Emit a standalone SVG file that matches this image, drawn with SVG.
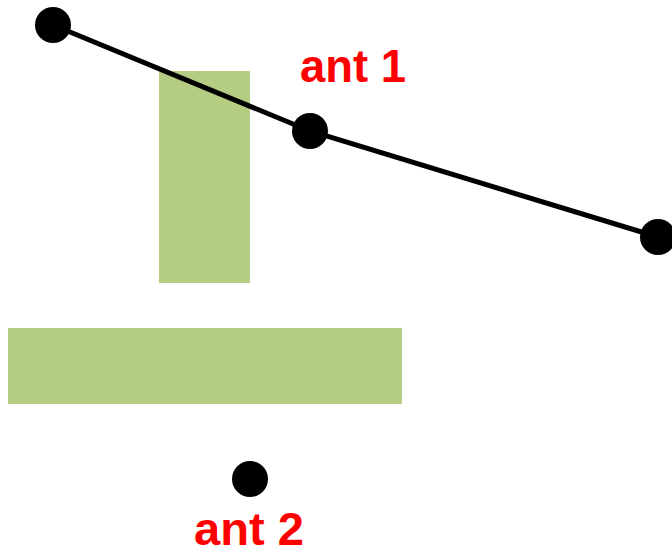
<svg xmlns="http://www.w3.org/2000/svg" width="672" height="556" viewBox="0 0 672 556">
<style>
.wall{fill:#B5CD82}
.dot{fill:#000}
.lbl{font-family:"Liberation Sans",Arial,sans-serif;font-weight:bold;font-size:47px;fill:#FF0000}
.ray{stroke:#000;stroke-width:5;fill:none}
</style>
<rect width="672" height="556" fill="#fff"/>
<g id="wall1"><rect class="wall" x="159" y="71" width="91" height="212"/></g>
<g id="wall2"><rect class="wall" x="8" y="328" width="394" height="76"/></g>
<g id="connectors"><polyline class="ray" points="53,25 310,131 658,237"/></g>
<g id="p1"><circle class="dot" cx="53" cy="25" r="18"/></g>
<g id="ant1"><circle class="dot" cx="310" cy="131" r="18"/><text class="lbl" x="300" y="82" textLength="106" lengthAdjust="spacingAndGlyphs">ant 1</text></g>
<g id="p3"><circle class="dot" cx="658" cy="237" r="18"/></g>
<g id="ant2"><circle class="dot" cx="250" cy="479" r="18"/><text class="lbl" x="194" y="545" style="font-size:46px" textLength="110" lengthAdjust="spacingAndGlyphs">ant 2</text></g>
</svg>
